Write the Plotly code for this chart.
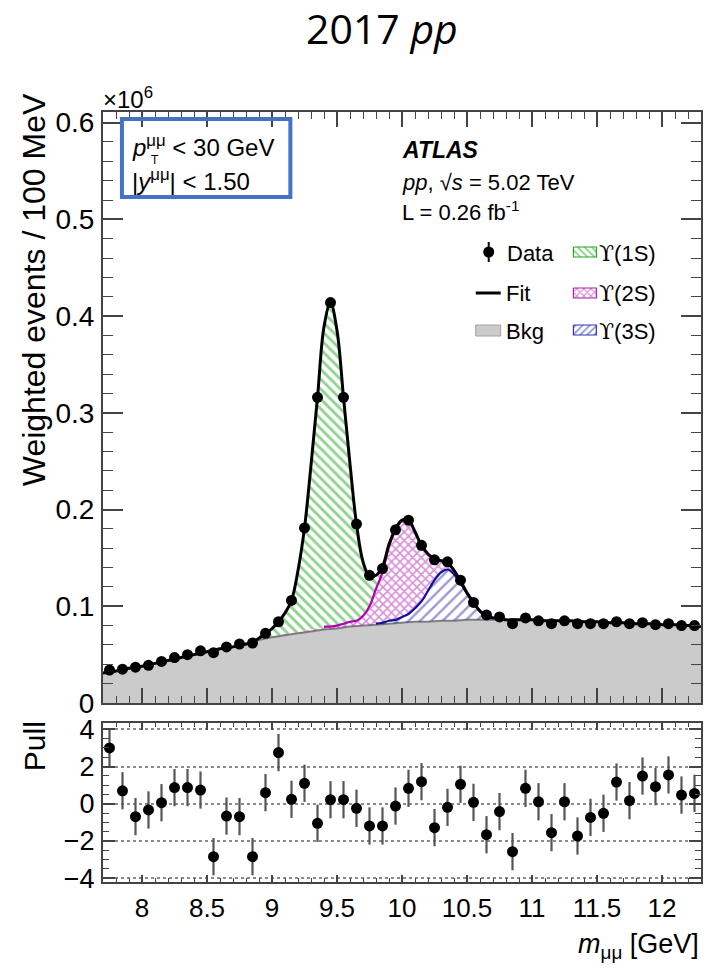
import plotly.graph_objects as go

# ---------------- data ----------------
mass = [7.75, 7.85, 7.95, 8.05, 8.15, 8.25, 8.35, 8.45, 8.55, 8.65, 8.75, 8.85,
        8.95, 9.05, 9.15, 9.25, 9.35, 9.45, 9.55, 9.65, 9.75, 9.85, 9.95,
        10.05, 10.15, 10.25, 10.35, 10.45, 10.55, 10.65, 10.75, 10.85, 10.95,
        11.05, 11.15, 11.25, 11.35, 11.45, 11.55, 11.65, 11.75, 11.85, 11.95,
        12.05, 12.15, 12.25]
events = [0.034, 0.035, 0.037, 0.039, 0.043, 0.047, 0.050, 0.054, 0.052, 0.058, 0.061, 0.062,
          0.072, 0.084, 0.106, 0.181, 0.316, 0.414, 0.316, 0.185, 0.132, 0.139, 0.179,
          0.189, 0.163, 0.148, 0.146, 0.127, 0.104, 0.091, 0.089, 0.082, 0.088,
          0.085, 0.082, 0.085, 0.082, 0.082, 0.082, 0.084, 0.082, 0.083, 0.081,
          0.082, 0.080, 0.080]
events_err = [0.002, 0.002, 0.002, 0.002, 0.002, 0.002, 0.002, 0.002, 0.002, 0.002, 0.002, 0.002,
              0.002, 0.002, 0.003, 0.003, 0.004, 0.005, 0.004, 0.003, 0.003, 0.003, 0.003,
              0.003, 0.003, 0.003, 0.003, 0.003, 0.003, 0.002, 0.002, 0.002, 0.002,
              0.002, 0.002, 0.002, 0.002, 0.002, 0.002, 0.002, 0.002, 0.002, 0.002,
              0.002, 0.002, 0.002]
pull = [3.0, 0.7, -0.69, -0.33, 0.06, 0.87, 0.87, 0.74, -2.84, -0.66, -0.69, -2.84,
        0.6, 2.75, 0.24, 1.1, -1.05, 0.22, 0.22, -0.24, -1.19, -1.19, -0.12,
        0.83, 1.19, -1.28, -0.19, 1.05, 0.08, -1.66, -0.42, -2.57, 0.83,
        0.11, -1.55, 0.11, -1.73, -0.73, -0.51, 1.17, 0.17, 1.49, 0.92,
        1.55, 0.47, 0.56]
pull_err = [1.0, 1.0, 1.0, 1.0, 1.0, 1.0, 1.0, 1.0, 1.0, 1.0, 1.0, 1.0,
            1.0, 1.0, 1.0, 1.0, 1.0, 1.0, 1.0, 1.0, 1.0, 1.0, 1.0,
            1.0, 1.0, 1.0, 1.0, 1.0, 1.0, 1.0, 1.0, 1.0, 1.0,
            1.0, 1.0, 1.0, 1.0, 1.0, 1.0, 1.0, 1.0, 1.0, 1.0,
            1.0, 1.0, 1.0]

# background shape over the full range
bkg_x = [7.7, 7.8, 7.9, 8.0, 8.1, 8.2, 8.3, 8.4, 8.5, 8.6, 8.7, 8.8, 8.9, 9.0,
         9.1, 9.2, 9.3, 9.4, 9.5, 9.6, 9.7, 9.8, 9.9, 10.0, 10.1, 10.2, 10.3,
         10.4, 10.5, 10.6, 10.7, 10.8, 10.9, 11.0, 11.1, 11.2, 11.3, 11.4, 11.5,
         11.6, 11.7, 11.8, 11.9, 12.0, 12.1, 12.2, 12.3]
bkg_y = [0.031, 0.033, 0.036, 0.038, 0.041, 0.044, 0.047, 0.050, 0.053, 0.056, 0.058, 0.061, 0.065, 0.068,
         0.070, 0.072, 0.074, 0.076, 0.077, 0.079, 0.080, 0.081, 0.082, 0.083, 0.084, 0.084, 0.085,
         0.085, 0.086, 0.086, 0.086, 0.086, 0.086, 0.086, 0.085, 0.085, 0.085, 0.084, 0.084,
         0.083, 0.083, 0.082, 0.082, 0.081, 0.081, 0.080, 0.079]

# signal region: background and the three Upsilon components
sig_x = [8.85, 8.90, 8.95, 9.00, 9.05, 9.10, 9.15, 9.20, 9.25, 9.30, 9.35, 9.40, 9.45,
         9.50, 9.55, 9.60, 9.65, 9.70, 9.75, 9.80, 9.85, 9.90, 9.95, 10.00, 10.05,
         10.10, 10.15, 10.20, 10.25, 10.30, 10.35, 10.40, 10.45, 10.50, 10.55, 10.60,
         10.65, 10.70, 10.75, 10.80, 10.85, 10.90, 10.95]
sig_bkg = [0.063, 0.065, 0.067, 0.068, 0.069, 0.070, 0.071, 0.072, 0.073, 0.074, 0.075, 0.076, 0.076,
           0.077, 0.078, 0.079, 0.079, 0.080, 0.080, 0.081, 0.081, 0.082, 0.082, 0.083, 0.083,
           0.084, 0.084, 0.084, 0.085, 0.085, 0.085, 0.085, 0.086, 0.086, 0.086, 0.086,
           0.086, 0.086, 0.086, 0.086, 0.086, 0.086, 0.086]
ups3s = [0, 0, 0, 0, 0, 0, 0, 0, 0, 0, 0, 0, 0,
         0, 0, 0, 0.000, 0.000, 0.001, 0.001, 0.002, 0.003, 0.004, 0.006, 0.009,
         0.014, 0.021, 0.032, 0.042, 0.050, 0.053, 0.048, 0.038, 0.027, 0.017, 0.009,
         0.004, 0.002, 0.001, 0, 0, 0, 0]
ups2s = [0, 0, 0, 0.000, 0.001, 0.001, 0.001, 0.001, 0.002, 0.002, 0.002, 0.003, 0.003,
         0.003, 0.004, 0.005, 0.006, 0.010, 0.019, 0.036, 0.052, 0.077, 0.093, 0.099, 0.097,
         0.079, 0.058, 0.038, 0.022, 0.012, 0.007, 0.004, 0.002, 0.001, 0.001, 0,
         0, 0, 0, 0, 0, 0, 0]
ups1s = [0.000, 0.002, 0.005, 0.009, 0.014, 0.022, 0.034, 0.064, 0.106, 0.170, 0.239, 0.310, 0.335,
         0.305, 0.234, 0.163, 0.100, 0.056, 0.031, 0.014, 0.006, 0.002, 0.001, 0.001, 0,
         0, 0, 0, 0, 0, 0, 0, 0, 0, 0, 0,
         0, 0, 0, 0, 0, 0, 0]

x_tickvals = [8, 8.5, 9, 9.5, 10, 10.5, 11, 11.5, 12]
x_ticktext = ["8", "8.5", "9", "9.5", "10", "10.5", "11", "11.5", "12"]

# ---------------- geometry ----------------
W, H = 710, 978
ML, MR, MT, MB = 103, 7, 112, 96
PW = W - ML - MR
PH = H - MT - MB


def px(x):
    return (x - ML) / PW


def py(y):
    return (H - MB - y) / PH


FONT = "Liberation Sans, Arial, Helvetica, sans-serif"
AX = "#444444"
GREEN, MAGENTA, BLUE = "#22a822", "#b01cb0", "#3434b0"

# stacked components
c3 = [b + a for b, a in zip(sig_bkg, ups3s)]
c2 = [c + a for c, a in zip(c3, ups2s)]
tot = [c + a for c, a in zip(c2, ups1s)]
fit_x = [x for x in bkg_x if x < sig_x[0]] + sig_x + [x for x in bkg_x if x > sig_x[-1]]
fit_y = ([y for x, y in zip(bkg_x, bkg_y) if x < sig_x[0]] + tot +
         [y for x, y in zip(bkg_x, bkg_y) if x > sig_x[-1]])

fig = go.Figure()
NOHOV = dict(hoverinfo="skip", showlegend=False)
NOLINE = dict(width=0, shape="spline", color="rgba(0,0,0,0)")

# background
fig.add_trace(go.Scatter(x=bkg_x, y=bkg_y, mode="lines", fill="tozeroy", fillcolor="#cbcbcb",
                         line=dict(color="#808080", width=2, shape="spline"), **NOHOV))
# base of the stack
fig.add_trace(go.Scatter(x=sig_x, y=sig_bkg, mode="lines", line=NOLINE, **NOHOV))
# Upsilon(3S)
fig.add_trace(go.Scatter(x=sig_x, y=c3, mode="lines", fill="tonexty", fillcolor="rgba(0,0,0,0)",
                         fillpattern=dict(shape="/", fgcolor=BLUE, bgcolor="rgba(0,0,0,0)",
                                          size=8, solidity=0.3),
                         line=NOLINE, **NOHOV))
# Upsilon(2S)
fig.add_trace(go.Scatter(x=sig_x, y=c2, mode="lines", fill="tonexty", fillcolor="rgba(0,0,0,0)",
                         fillpattern=dict(shape="x", fgcolor=MAGENTA, bgcolor="rgba(0,0,0,0)",
                                          size=6, solidity=0.45),
                         line=NOLINE, **NOHOV))
# Upsilon(1S)
fig.add_trace(go.Scatter(x=sig_x, y=tot, mode="lines", fill="tonexty", fillcolor="rgba(0,0,0,0)",
                         fillpattern=dict(shape="\\", fgcolor=GREEN, bgcolor="rgba(0,0,0,0)",
                                          size=7, solidity=0.42),
                         line=NOLINE, **NOHOV))
# component boundary lines
i_m0, i_m1 = sig_x.index(9.40), sig_x.index(10.60)
i_b0, i_b1 = sig_x.index(9.80), sig_x.index(10.80)
fig.add_trace(go.Scatter(x=sig_x[i_m0:i_m1 + 1], y=c2[i_m0:i_m1 + 1], mode="lines",
                         line=dict(color="#b000b0", width=2.2, shape="spline"), **NOHOV))
fig.add_trace(go.Scatter(x=sig_x[i_b0:i_b1 + 1], y=c3[i_b0:i_b1 + 1], mode="lines",
                         line=dict(color="#10109a", width=2.2, shape="spline"), **NOHOV))
# total fit
fig.add_trace(go.Scatter(x=fit_x, y=fit_y, mode="lines",
                         line=dict(color="black", width=3, shape="spline"), **NOHOV))
# data
fig.add_trace(go.Scatter(x=mass, y=events, mode="markers",
                         marker=dict(color="black", size=11),
                         error_y=dict(type="data", array=events_err, color="black", thickness=2, width=0),
                         **NOHOV))
# pulls
fig.add_trace(go.Scatter(x=mass, y=pull, mode="markers", xaxis="x2", yaxis="y2",
                         marker=dict(color="black", size=11),
                         error_y=dict(type="data", array=pull_err, color="#555555", thickness=2.2, width=0),
                         **NOHOV))

# ---------------- legend (drawn in a pixel-unit overlay axis) ----------------
LEG = dict(xaxis="x3", yaxis="y3", **NOHOV)
fig.add_trace(go.Scatter(x=[490], y=[252], mode="markers", marker=dict(color="black", size=11),
                         error_y=dict(type="data", array=[10], color="black", thickness=2, width=0), **LEG))
fig.add_trace(go.Scatter(x=[477, 502], y=[293, 293], mode="lines",
                         line=dict(color="black", width=3), **LEG))
fig.add_trace(go.Scatter(x=[477, 502, 502, 477, 477], y=[325, 325, 336, 336, 325], mode="lines",
                         fill="toself", fillcolor="#cbcbcb", line=dict(color="#a0a0a0", width=1), **LEG))
swatches = [(252, "\\", GREEN, 5), (293, "x", MAGENTA, 5), (330, "/", BLUE, 5)]
for yc, shp, col, sz in swatches:
    fig.add_trace(go.Scatter(x=[575, 598, 598, 575, 575], y=[yc - 5, yc - 5, yc + 5, yc + 5, yc - 5],
                             mode="lines", fill="toself", fillcolor="rgba(0,0,0,0)",
                             fillpattern=dict(shape=shp, fgcolor=col, bgcolor="white", size=sz, solidity=0.4),
                             line=dict(color=col, width=1.2), **LEG))

# ---------------- layout ----------------
main_dom = [py(703), 1.0]
pull_dom = [0.0, py(723)]

common_x = dict(range=[7.7, 12.3], showgrid=False, zeroline=False, showline=True, linecolor=AX,
                linewidth=2, mirror="allticks", ticks="inside", tickcolor=AX, tickwidth=1.5,
                tickvals=x_tickvals)

fig.update_layout(
    width=W, height=H,
    margin=dict(l=ML, r=MR, t=MT, b=MB),
    paper_bgcolor="white", plot_bgcolor="white",
    font=dict(family=FONT, color="black", size=26),
    showlegend=False,
    xaxis=dict(domain=[0, 1], anchor="y", showticklabels=False, ticklen=15,
               minor=dict(ticks="inside", dtick=0.1, tick0=7.7, ticklen=7, tickcolor=AX, tickwidth=1.2),
               **common_x),
    yaxis=dict(domain=main_dom, anchor="x", range=[0, 0.611], tickvals=[0, 0.1, 0.2, 0.3, 0.4, 0.5, 0.6],
               ticktext=["0", "0.1", "0.2", "0.3", "0.4", "0.5", "0.6"],
               showgrid=False, zeroline=False, showline=True, linecolor=AX, linewidth=2,
               mirror="allticks", ticks="inside", ticklen=20, tickcolor=AX, tickwidth=1.5,
               minor=dict(ticks="inside", dtick=0.02, tick0=0, ticklen=10, tickcolor=AX, tickwidth=1.2),
               tickfont=dict(size=28), ticklabelstandoff=1),
    xaxis2=dict(domain=[0, 1], anchor="y2", matches="x", ticktext=x_ticktext, ticklen=7,
                minor=dict(ticks="inside", dtick=0.1, tick0=7.7, ticklen=4, tickcolor=AX, tickwidth=1.2),
                tickfont=dict(size=26), ticklabelstandoff=2, **common_x),
    yaxis2=dict(domain=pull_dom, anchor="x2", range=[-4.2, 4.34], tickvals=[-4, -2, 0, 2, 4],
                showgrid=True, gridcolor="#8a8a8a", griddash="dot", gridwidth=1.5,
                zeroline=False, showline=True, linecolor=AX, linewidth=2,
                mirror="allticks", ticks="inside", ticklen=12, tickcolor=AX, tickwidth=1.5,
                minor=dict(ticks="inside", dtick=0.5, tick0=0, ticklen=6, tickcolor=AX, tickwidth=1.2,
                           showgrid=False),
                tickfont=dict(size=27), ticklabelstandoff=1),
    xaxis3=dict(domain=[0, 1], anchor="y3", overlaying="x", range=[ML, W - MR], visible=False),
    yaxis3=dict(domain=main_dom, anchor="x3", overlaying="y", range=[703, MT], visible=False),
)

ann = []


def add_text(x, y, text, size=22, xanchor="left", yanchor="middle", family=FONT, angle=0):
    ann.append(dict(x=px(x), y=py(y), xref="paper", yref="paper", text=text, showarrow=False,
                    xanchor=xanchor, yanchor=yanchor, textangle=angle,
                    font=dict(size=size, family=family, color="black")))


UPS = '<span style="font-family:DejaVu Serif">ϒ</span>'

add_text(383, 28, "2017 <i>pp</i>", size=41, xanchor="center", family="Open Sans, Noto Sans, sans-serif")
add_text(101, 98, "×10<sup>6</sup>", size=24)
add_text(34, 290, "Weighted events / 100 MeV", size=32, xanchor="center", angle=-90)
add_text(34, 746, "Pull", size=30, xanchor="center", angle=-90)
add_text(703, 946, "<i>m</i><sub>μμ</sub> [GeV]", size=27, xanchor="right")
# selection box
add_text(130, 146, "<i>p</i><sup>μμ</sup> &lt; 30 GeV", size=24)
add_text(149, 160, "T", size=12)
add_text(130, 180, "|<i>y</i><sup>μμ</sup>| &lt; 1.50", size=24)
# ATLAS label
add_text(401, 150, "<b><i>ATLAS</i></b>", size=23)
add_text(401, 182, "<i>pp</i>, √<i>s</i> = 5.02 TeV", size=22)
add_text(401, 211, "L = 0.26 fb<sup>-1</sup>", size=22)
# legend text
add_text(506, 253, "Data", size=22)
add_text(505, 293, "Fit", size=22)
add_text(505, 331, "Bkg", size=22)
for yc, lab in [(253, "(1S)"), (293, "(2S)"), (331, "(3S)")]:
    add_text(599, yc, UPS + lab, size=22)

fig.update_layout(annotations=ann)
fig.add_shape(type="rect", xref="paper", yref="paper", x0=px(122), x1=px(291), y0=py(119), y1=py(197),
              line=dict(color="#4472C4", width=4), fillcolor="rgba(0,0,0,0)")

fig.write_html("out.html", config={"displayModeBar": False},
               post_script="document.body.style.margin='0';document.body.style.overflow='hidden';")
